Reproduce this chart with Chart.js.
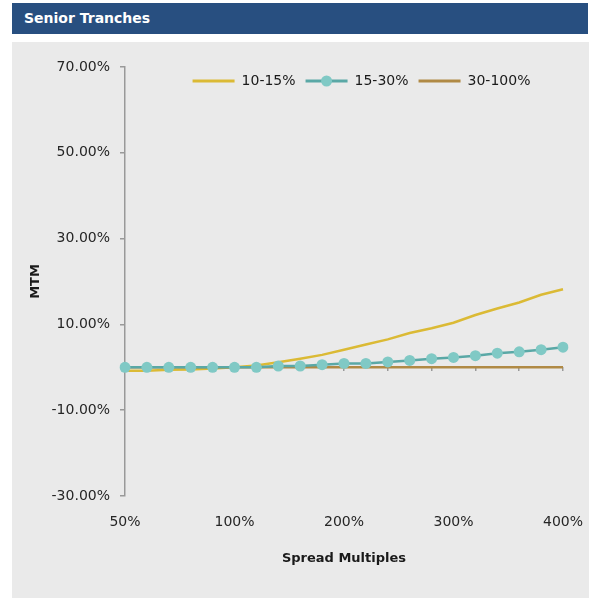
<!DOCTYPE html>
<html lang="en">
<head>
    <meta charset="UTF-8">
    <title>Senior Tranches</title>
    <script src="https://cdn.jsdelivr.net/npm/chart.js"></script>
    <style>
        body { margin: 0; background: #ffffff; font-family: "DejaVu Sans", sans-serif; }
        #titleBar {
            position: absolute; left: 12px; top: 3px; width: 576px; height: 31px;
            background: #284f80; color: #ffffff; font-weight: bold; font-size: 14px;
            line-height: 31px; padding-left: 12px; box-sizing: border-box;
        }
        #panel {
            position: absolute; left: 12px; top: 42px; width: 577px; height: 556px;
            background: #eaeaea;
        }
    </style>
</head>
<body>
    <div id="titleBar">Senior Tranches</div>
    <div id="panel"><canvas id="mtmChart"></canvas></div>
    <script>
        const spreadLabels = ['50%', '60%', '70%', '80%', '90%', '100%', '120%', '140%', '160%', '180%', '200%',
            '220%', '240%', '260%', '280%', '300%', '320%', '340%', '360%', '380%', '400%'];
        const tranche10to15 = [-0.8, -0.8, -0.6, -0.5, -0.3, 0.0, 0.4, 1.2, 2.0, 2.9, 4.1,
            5.3, 6.5, 8.0, 9.1, 10.4, 12.2, 13.7, 15.1, 16.9, 18.2];
        const tranche15to30 = [0, 0, 0, 0, 0, 0, 0, 0.3, 0.3, 0.6, 0.9,
            0.9, 1.25, 1.6, 2.0, 2.3, 2.7, 3.3, 3.6, 4.1, 4.7];
        const tranche30to100 = [0, 0, 0, 0, 0, 0, 0, 0, 0, 0, 0,
            0, 0, 0, 0, 0, 0, 0, 0, 0, 0];
        const yTicks = [-30, -10, 10, 30, 50, 70];

        const tickFont = { family: 'DejaVu Sans', size: 14 };
        const titleFont = { family: 'DejaVu Sans', size: 13, weight: 'bold' };

        // legend sits inside the plot, takes no layout room
        const legendInPlot = {
            id: 'legendInPlot',
            beforeInit(chart) {
                const fit = chart.legend.fit;
                chart.legend.fit = function () {
                    fit.call(chart.legend);
                    this.height = 0;
                };
            },
            afterLayout(chart) {
                const lg = chart.legend;
                lg.left = chart.chartArea.left + 35;
                lg.right = chart.chartArea.right;
                lg.top = 22;
                lg.height = 34;
                lg.bottom = lg.top + lg.height;
                lg.width = lg.right - lg.left;
            },
            afterDraw(chart) {
                // marker on the 15-30% legend sample
                const box = chart.legend.legendHitBoxes[1];
                if (!box) return;
                const ctx = chart.ctx;
                ctx.save();
                ctx.fillStyle = '#80c9c5';
                ctx.beginPath();
                ctx.arc(box.left + 21, box.top + box.height / 2, 5.5, 0, Math.PI * 2);
                ctx.fill();
                ctx.restore();
            }
        };

        const ctx = document.getElementById('mtmChart').getContext('2d');
        const myChart = new Chart(ctx, {
            type: 'line',
            data: {
                labels: spreadLabels,
                datasets: [{
                    label: '10-15%',
                    data: tranche10to15,
                    borderColor: '#dbba35',
                    backgroundColor: '#dbba35',
                    borderWidth: 2.5,
                    pointRadius: 0,
                    tension: 0,
                    order: 3
                }, {
                    label: '15-30%',
                    data: tranche15to30,
                    borderColor: '#5aa8a6',
                    backgroundColor: '#80c9c5',
                    borderWidth: 2.5,
                    pointRadius: 5.5,
                    pointBorderWidth: 0,
                    pointBackgroundColor: '#80c9c5',
                    tension: 0,
                    order: 1
                }, {
                    label: '30-100%',
                    data: tranche30to100,
                    borderColor: '#b08a45',
                    backgroundColor: '#b08a45',
                    borderWidth: 2.5,
                    pointRadius: 0,
                    tension: 0,
                    order: 2
                }]
            },
            options: {
                responsive: true,
                maintainAspectRatio: false,
                animation: false,
                layout: { padding: { top: 25, right: 26, bottom: 28, left: 0 } },
                scales: {
                    x: {
                        type: 'category',
                        position: 'bottom',
                        grid: { display: false, drawTicks: true, tickLength: 15 },
                        border: { display: false },
                        afterFit: function (scale) {
                            scale.height = 74;
                        },
                        ticks: {
                            autoSkip: false,
                            maxRotation: 0,
                            padding: 3,
                            color: '#262626',
                            font: tickFont,
                            callback: function (value, index) {
                                return index % 5 === 0 ? spreadLabels[index] : '';
                            }
                        },
                        title: {
                            display: true,
                            text: 'Spread Multiples',
                            color: '#1a1a1a',
                            font: titleFont,
                            padding: { top: 0, bottom: 4 }
                        }
                    },
                    xZero: {
                        type: 'category',
                        axis: 'x',
                        labels: spreadLabels,
                        position: { y: 0 },
                        ticks: { display: false, autoSkip: false },
                        border: { display: false },
                        grid: {
                            drawOnChartArea: false,
                            drawTicks: true,
                            tickLength: 4,
                            lineWidth: 1.5,
                            color: ctx => ctx.index % 2 === 0 ? '#999999' : 'rgba(0,0,0,0)'
                        }
                    },
                    y: {
                        min: -30,
                        max: 70,
                        afterBuildTicks: function (scale) {
                            scale.ticks = yTicks.map(v => ({ value: v }));
                        },
                        afterFit: function (scale) {
                            scale.width = 113;
                        },
                        grid: {
                            drawOnChartArea: false,
                            tickLength: 5,
                            color: '#999999',
                            lineWidth: 1.5
                        },
                        border: { color: '#999999', width: 1.5 },
                        ticks: {
                            padding: 10,
                            color: '#262626',
                            font: tickFont,
                            callback: value => value.toFixed(2) + '%'
                        },
                        title: {
                            display: true,
                            text: 'MTM',
                            color: '#1a1a1a',
                            font: titleFont,
                            padding: { top: 16, bottom: 0 }
                        }
                    }
                },
                plugins: {
                    legend: {
                        display: true,
                        position: 'top',
                        align: 'center',
                        labels: {
                            boxWidth: 42,
                            boxHeight: 3,
                            padding: 10,
                            color: '#1a1a1a',
                            font: tickFont,
                            sort: (a, b) => a.datasetIndex - b.datasetIndex,
                            generateLabels: function (chart) {
                                const items = Chart.defaults.plugins.legend.labels.generateLabels(chart);
                                return items.map(item => {
                                    item.fillStyle = item.strokeStyle;
                                    item.lineWidth = 0;
                                    return item;
                                });
                            }
                        }
                    },
                    tooltip: { enabled: false }
                }
            },
            plugins: [legendInPlot]
        });
    </script>
</body>
</html>
